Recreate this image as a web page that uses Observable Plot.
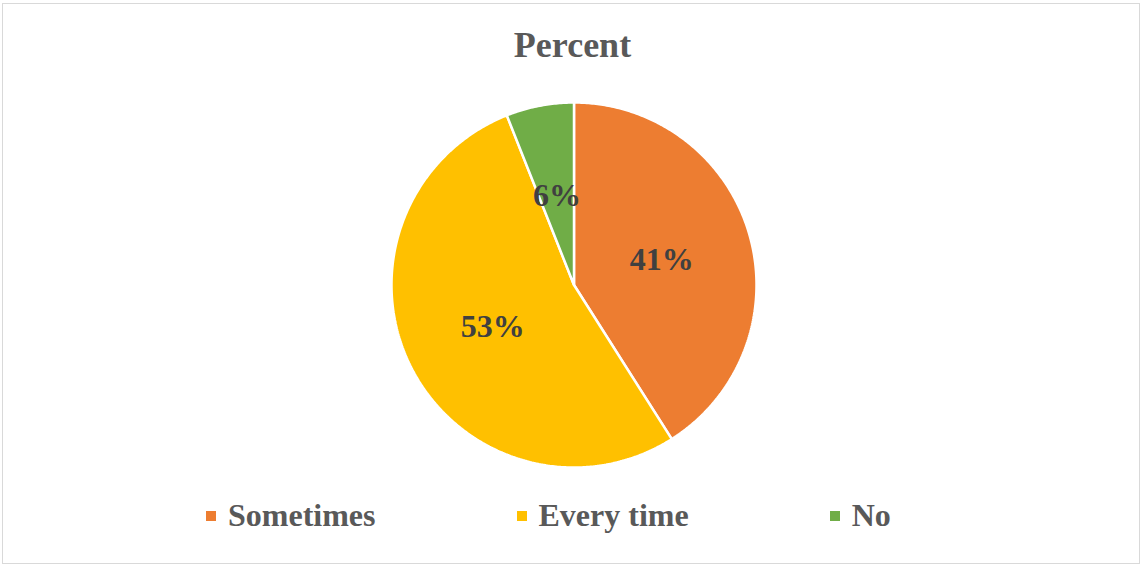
<!DOCTYPE html>
<html>
<head>
<meta charset="utf-8">
<script src="https://cdn.jsdelivr.net/npm/d3@7"></script>
<script src="https://cdn.jsdelivr.net/npm/@observablehq/plot@0.6"></script>
<style>
  html, body { margin: 0; padding: 0; background: #fff; }
  #chart { position: relative; width: 1144px; height: 567px; overflow: hidden; font-family: "Liberation Serif", "Times New Roman", serif; }
  #frame { position: absolute; left: 2px; top: 3px; width: 1138px; height: 561px; border: 1px solid #d9d9d9; box-sizing: border-box; }
  #title { position: absolute; left: 0; width: 1145px; top: 27px; text-align: center; font-size: 36px; line-height: 36px; font-weight: bold; color: #595959; }
  #plot { position: absolute; left: 0; top: 0; }
  #legend { position: absolute; left: 206px; top: 497px; display: flex; align-items: center; font-size: 32px; line-height: 36px; font-weight: bold; color: #595959; }
  .item { display: flex; align-items: center; margin-right: 141px; }
  .item:last-child { margin-right: 0; }
  .sw { width: 10px; height: 10px; margin-right: 12px; margin-top: 2px; }
</style>
</head>
<body>
<div id="chart">
  <div id="frame"></div>
  <div id="title">Percent</div>
  <div id="plot"></div>
  <div id="legend"></div>
</div>
<script>
// Share of answers, in percent
const categories = ["Sometimes", "Every time", "No"];
const percents = [41, 53, 6];
const colors = ["#ED7D31", "#FFC000", "#70AD47"];

// Slice angles, starting at 12 o'clock and going clockwise
const arcs = d3.pie().sort(null).value(d => d)(percents);

// Outline of each slice as a closed polygon on the unit circle
const outline = [];
arcs.forEach((a, i) => {
  const steps = Math.max(4, Math.ceil((a.endAngle - a.startAngle) / 0.01));
  outline.push({cat: categories[i], x: 0, y: 0});
  for (let k = 0; k <= steps; k++) {
    const t = a.startAngle + (a.endAngle - a.startAngle) * k / steps;
    outline.push({cat: categories[i], x: Math.sin(t), y: Math.cos(t)});
  }
  outline.push({cat: categories[i], x: 0, y: 0});
});

// Value labels halfway out along each slice's middle angle
const labels = arcs.map((a, i) => {
  const m = (a.startAngle + a.endAngle) / 2;
  return {text: percents[i] + "%", x: 0.5 * Math.sin(m), y: 0.5 * Math.cos(m)};
});

const plot = Plot.plot({
  width: 1144,
  height: 567,
  marginLeft: 391,
  marginRight: 388,
  marginTop: 102,
  marginBottom: 100,
  x: {domain: [-1, 1], axis: null},
  y: {domain: [-1, 1], axis: null},
  color: {domain: categories, range: colors},
  marks: [
    Plot.line(outline, {x: "x", y: "y", z: "cat", fill: "cat", stroke: "#fff", strokeWidth: 2.5, strokeLinejoin: "miter", curve: "linear"}),
    Plot.text(labels, {x: "x", y: "y", text: "text", fontSize: 32, fontWeight: "bold", fill: "#404040", fontFamily: "Liberation Serif, Times New Roman, serif"})
  ]
});
plot.style.background = "transparent";
document.getElementById("plot").appendChild(plot);

// Legend entries built from the same categories and colours
const legend = document.getElementById("legend");
categories.forEach((c, i) => {
  const item = document.createElement("div");
  item.className = "item";
  const sw = document.createElement("div");
  sw.className = "sw";
  sw.style.background = colors[i];
  const lab = document.createElement("span");
  lab.textContent = c;
  item.appendChild(sw);
  item.appendChild(lab);
  legend.appendChild(item);
});
</script>
</body>
</html>
